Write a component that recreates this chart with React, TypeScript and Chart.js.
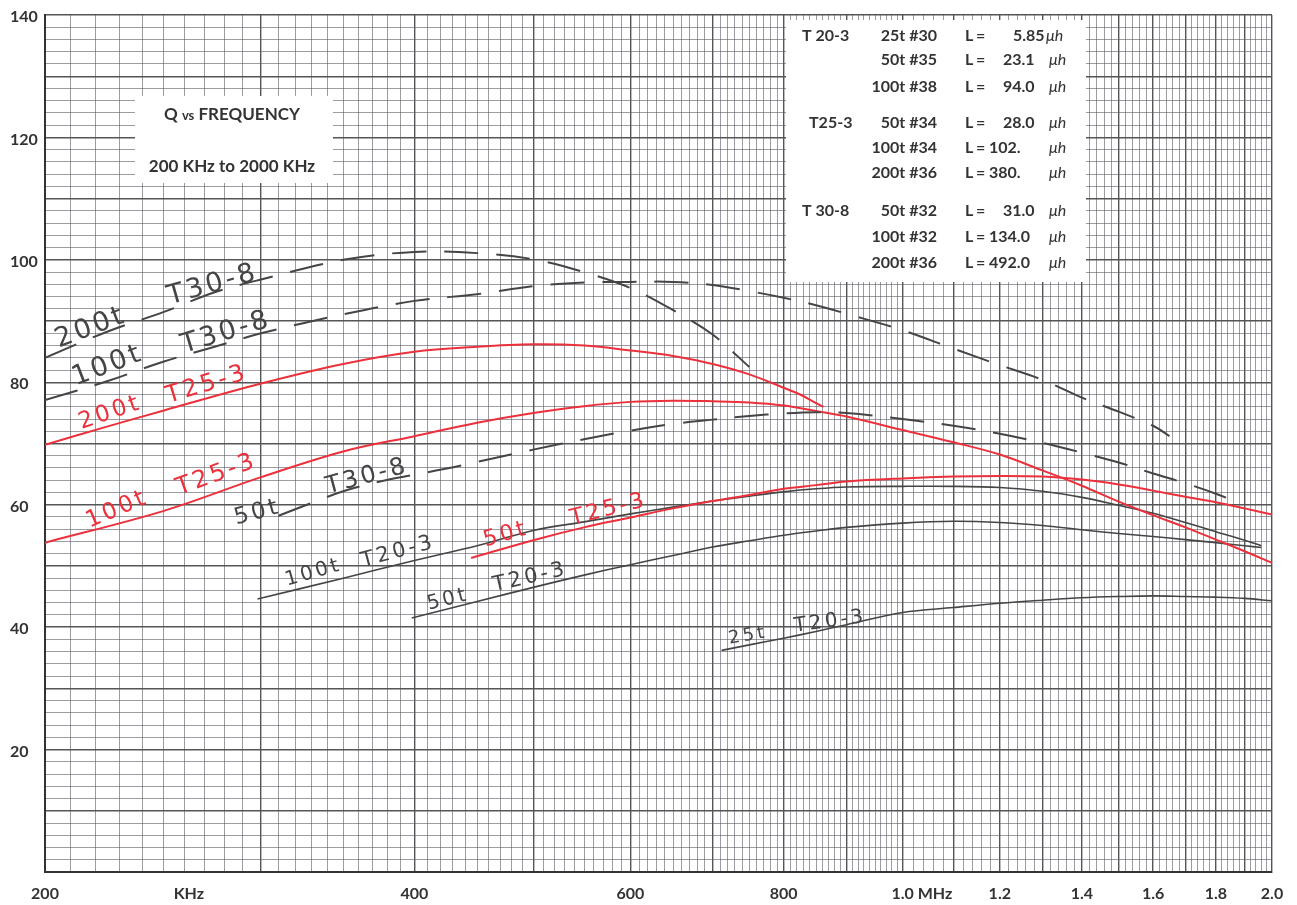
import React, { useEffect, useRef } from 'react';
import { Chart, registerables } from 'chart.js';

Chart.register(...registerables);

// ---- Data (frequency in kHz, Q) ----
const T30_200T_FREQ = [200, 225, 250, 275, 300, 350, 400, 450, 500, 550, 600, 650, 700, 750];
const T30_200T_Q = [84.0, 88.3, 91.5, 94.7, 96.8, 100.0, 101.3, 101.1, 100.1, 98.0, 95.4, 91.8, 87.8, 82.5];

const T30_100T_FREQ = [200, 225, 250, 275, 300, 350, 400, 450, 500, 550, 600, 650, 700, 750, 800, 850, 900, 1000, 1100, 1200, 1300, 1400, 1500, 1600, 1650];
const T30_100T_Q = [77.1, 80.2, 83.4, 85.8, 88.0, 91.1, 93.3, 94.4, 95.7, 96.3, 96.4, 96.4, 95.9, 94.9, 93.8, 92.6, 91.2, 88.5, 85.5, 82.8, 80.4, 77.5, 75.2, 72.9, 71.2];

const T30_50T_FREQ = [310, 330, 350, 375, 400, 425, 450, 500, 550, 600, 650, 700, 750, 800, 850, 900, 1000, 1100, 1200, 1300, 1400, 1500, 1600, 1700, 1800, 1870];
const T30_50T_Q = [58.2, 60.3, 62.2, 63.8, 64.9, 65.9, 67.0, 69.0, 70.7, 72.1, 73.2, 73.9, 74.5, 74.9, 75.1, 75.0, 74.0, 72.9, 71.6, 70.1, 68.5, 66.9, 65.1, 63.5, 61.8, 60.5];

const T25_200T_FREQ = [200, 225, 250, 300, 350, 400, 450, 500, 550, 600, 650, 700, 750, 800, 825, 850, 862];
const T25_200T_Q = [69.8, 72.8, 75.4, 79.8, 83.0, 85.0, 85.8, 86.2, 86.0, 85.2, 84.3, 83.0, 81.3, 79.1, 78.0, 76.6, 76.0];

const T25_100T_FREQ = [200, 250, 300, 350, 400, 450, 500, 550, 600, 650, 700, 750, 800, 850, 900, 1000, 1100, 1200, 1300, 1400, 1500, 1600, 1700, 1800, 1900, 2000];
const T25_100T_Q = [53.8, 59.0, 64.5, 68.7, 71.2, 73.4, 75.0, 76.1, 76.8, 77.0, 76.9, 76.7, 76.2, 75.3, 74.4, 72.2, 70.2, 68.2, 65.6, 63.1, 60.5, 58.3, 56.3, 54.3, 52.4, 50.5];

const T25_50T_FREQ = [445, 500, 550, 600, 650, 700, 750, 800, 850, 900, 1000, 1100, 1200, 1300, 1400, 1500, 1600, 1700, 1800, 1900, 2000];
const T25_50T_Q = [51.3, 54.2, 56.3, 57.9, 59.4, 60.6, 61.6, 62.6, 63.2, 63.8, 64.3, 64.6, 64.7, 64.6, 64.1, 63.3, 62.3, 61.3, 60.4, 59.4, 58.4];

const T20_100T_FREQ = [298, 350, 400, 450, 500, 550, 600, 650, 700, 750, 800, 850, 900, 1000, 1100, 1200, 1300, 1400, 1500, 1600, 1700, 1800, 1900, 1960];
const T20_100T_Q = [44.6, 48.0, 50.9, 53.3, 55.8, 57.2, 58.5, 59.6, 60.6, 61.4, 62.1, 62.6, 62.9, 63.0, 63.0, 62.8, 62.2, 61.2, 59.9, 58.6, 57.1, 55.6, 54.2, 53.3];

const T20_50T_FREQ = [398, 450, 500, 550, 600, 650, 700, 750, 800, 850, 900, 1000, 1100, 1200, 1300, 1400, 1500, 1600, 1700, 1800, 1900, 1960];
const T20_50T_Q = [41.5, 44.2, 46.5, 48.5, 50.2, 51.7, 53.1, 54.1, 55.0, 55.7, 56.3, 57.0, 57.3, 57.1, 56.6, 55.9, 55.3, 54.8, 54.3, 53.8, 53.3, 53.0];

const T20_25T_FREQ = [712, 750, 800, 850, 900, 1000, 1100, 1200, 1300, 1400, 1500, 1600, 1700, 1800, 1900, 2000];
const T20_25T_Q = [36.2, 37.1, 38.2, 39.3, 40.4, 42.4, 43.2, 43.9, 44.4, 44.8, 45.0, 45.1, 45.0, 44.9, 44.7, 44.3];

// ---- Axis labels ----
const X_LABEL_VALUES = [200, 262, 400, 600, 800, 1000, 1200, 1400, 1600, 1800, 2000];
const X_LABEL_TEXTS = ['200', 'KHz', '400', '600', '800', '1.0', '1.2', '1.4', '1.6', '1.8', '2.0'];
const Y_LABEL_VALUES = [20, 40, 60, 80, 100, 120, 140];

// ---- Inset legend table ----
const LEGEND_CORES = ['T 20-3', '', '', 'T25-3', '', '', 'T 30-8', '', ''];
const LEGEND_TURNS = ['25t #30', '50t #35', '100t #38', '50t #34', '100t #34', '200t #36', '50t #32', '100t #32', '200t #36'];
const LEGEND_L = ['5.85', '23.1', '94.0', '28.0', '102.', '380.', '31.0', '134.0', '492.0'];

const RED = 'rgb(236, 48, 60)';
const INK = '#454545';
const TEXT = '#333333';

// handwritten curve labels: [text, freq, Q, angleDeg, color, size]
const HAND_LABELS: [string, number, number, number, string, number][] = [
  ['200t', 218, 88.9, -21, INK, 27],
  ['T30-8', 274, 95.9, -16, INK, 27],
  ['100t', 225, 82.7, -21, INK, 27],
  ['T30-8', 281, 88.1, -17, INK, 27],
  ['200t', 226, 75.0, -19, RED, 23],
  ['T25-3', 271, 79.6, -17, RED, 24],
  ['100t', 229, 59.2, -23, RED, 23],
  ['T25-3', 276, 64.9, -20, RED, 24],
  ['50t', 298, 58.7, -15, INK, 23],
  ['T30-8', 366, 64.6, -15, INK, 24],
  ['100t', 331, 48.9, -16, INK, 20],
  ['T20-3', 388, 52.3, -15, INK, 21],
  ['50t', 475, 55.1, -16, RED, 22],
  ['T25-3', 576, 59.2, -14, RED, 22],
  ['50t', 426, 44.5, -14, INK, 20],
  ['T20-3', 497, 48.1, -13, INK, 21],
  ['25t', 748, 38.6, -10, INK, 18],
  ['T20-3', 873, 40.9, -8, INK, 20],
];

function gridValuesX(): number[] {
  const v: number[] = [];
  for (let f = 200; f < 1000; f += 10) v.push(f);
  for (let f = 1000; f <= 2000; f += 20) v.push(f);
  return v;
}
function gridValuesY(): number[] {
  const v: number[] = [];
  for (let q = 0; q <= 140; q += 2) v.push(q);
  return v;
}

const LABEL_FONT = '"Lato", "Open Sans", sans-serif';

export default function App() {
  const ref = useRef<HTMLCanvasElement>(null);

  useEffect(() => {
    const canvas = ref.current!;
    const pts = (f: number[], q: number[]) => f.map((x, i) => ({ x, y: q[i] }));
    const line = (f: number[], q: number[], color: string, dashed: boolean, width: number) => ({
      data: pts(f, q),
      borderColor: color,
      borderWidth: width,
      borderDash: dashed ? [34, 18] : [],
      pointRadius: 0,
      fill: false,
      tension: 0.35,
    });

    const datasets = [
      line(T30_200T_FREQ, T30_200T_Q, INK, true, 2),
      line(T30_100T_FREQ, T30_100T_Q, INK, true, 2),
      line(T30_50T_FREQ, T30_50T_Q, INK, true, 2),
      line(T25_200T_FREQ, T25_200T_Q, RED, false, 2),
      line(T25_100T_FREQ, T25_100T_Q, RED, false, 2),
      line(T25_50T_FREQ, T25_50T_Q, RED, false, 2),
      line(T20_100T_FREQ, T20_100T_Q, INK, false, 1.6),
      line(T20_50T_FREQ, T20_50T_Q, INK, false, 1.6),
      line(T20_25T_FREQ, T20_25T_Q, INK, false, 1.6),
    ];

    const overlay = {
      id: 'overlay',
      beforeDatasetsDraw(chart: any) {
        const ctx = chart.ctx as CanvasRenderingContext2D;
        const a = chart.chartArea;
        ctx.save();
        ctx.fillStyle = '#ffffff';
        // title box
        ctx.fillRect(a.left + 90, a.top + 81, 198, 87);
        // inset table
        ctx.fillRect(a.left + 741, a.top + 5, 300, 262);
        ctx.restore();
      },
      afterDatasetsDraw(chart: any) {
        const ctx = chart.ctx as CanvasRenderingContext2D;
        const xs = chart.scales.x;
        const ys = chart.scales.y;
        ctx.save();
        ctx.textAlign = 'center';
        ctx.textBaseline = 'middle';
        (ctx as any).letterSpacing = '3px';
        for (const [t, f, q, ang, col, size] of HAND_LABELS) {
          ctx.save();
          ctx.translate(xs.getPixelForValue(f), ys.getPixelForValue(q));
          ctx.rotate((ang * Math.PI) / 180);
          ctx.font = `${size}px "DejaVu Sans", sans-serif`;
          ctx.fillStyle = col;
          ctx.fillText(t, 0, 0);
          ctx.restore();
        }
        ctx.restore();
      },
      afterDraw(chart: any) {
        const ctx = chart.ctx as CanvasRenderingContext2D;
        const a = chart.chartArea;
        const xs = chart.scales.x;
        const ys = chart.scales.y;
        ctx.save();
        ctx.fillStyle = TEXT;
        ctx.font = `bold 16px ${LABEL_FONT}`;
        // y labels
        ctx.textAlign = 'left';
        ctx.textBaseline = 'middle';
        for (const v of Y_LABEL_VALUES) {
          ctx.fillText(String(v), 10, ys.getPixelForValue(v) + 2);
        }
        // x labels
        ctx.textAlign = 'center';
        X_LABEL_VALUES.forEach((v, i) => {
          const px = xs.getPixelForValue(v);
          ctx.fillText(X_LABEL_TEXTS[i], px, a.bottom + 22);
          if (X_LABEL_TEXTS[i] === '1.0') {
            const w = ctx.measureText('1.0').width;
            ctx.textAlign = 'left';
            ctx.fillText(' MHz', px + w / 2, a.bottom + 22);
            ctx.textAlign = 'center';
          }
        });

        // title box text
        const tx = a.left + 187;
        ctx.font = `bold 17px ${LABEL_FONT}`;
        const q1 = 'Q ';
        const q2 = 'vs';
        const q3 = ' FREQUENCY';
        ctx.textAlign = 'left';
        const w1 = ctx.measureText(q1).width;
        const w3 = ctx.measureText(q3).width;
        ctx.font = `bold 13px ${LABEL_FONT}`;
        const w2 = ctx.measureText(q2).width;
        let sx = tx - (w1 + w2 + w3) / 2;
        const ty = a.top + 100;
        ctx.font = `bold 17px ${LABEL_FONT}`;
        ctx.fillText(q1, sx, ty);
        sx += w1;
        ctx.font = `bold 13px ${LABEL_FONT}`;
        ctx.fillText(q2, sx, ty + 1);
        sx += w2;
        ctx.font = `bold 17px ${LABEL_FONT}`;
        ctx.fillText(q3, sx, ty);
        ctx.textAlign = 'center';
        ctx.fillText('200 KHz to 2000 KHz', tx, a.top + 152);

        // inset table text
        const rowY = [21, 45, 72, 108, 133, 158, 196, 222, 248];
        ctx.font = `bold 16px ${LABEL_FONT}`;
        for (let i = 0; i < LEGEND_TURNS.length; i++) {
          const y = a.top + rowY[i];
          ctx.textAlign = 'left';
          if (LEGEND_CORES[i]) ctx.fillText(LEGEND_CORES[i], LEGEND_CORES[i] === 'T25-3' ? a.left + 764 : a.left + 757, y);
          ctx.textAlign = 'right';
          ctx.fillText(LEGEND_TURNS[i], a.left + 892, y);
          ctx.textAlign = 'left';
          ctx.fillText('L', a.left + 920, y);
          ctx.fillText('=', a.left + 931, y);
          const digits = LEGEND_L[i].split('.')[0].length;
          const vx = digits >= 3 ? 944 : digits === 2 ? 958 : 968;
          ctx.fillText(LEGEND_L[i], a.left + vx, y);
          ctx.font = `italic 16px ${LABEL_FONT}`;
          ctx.fillText('\u03BCh', a.left + (i === 0 ? 1001 : 1004), y);
          ctx.font = `bold 16px ${LABEL_FONT}`;
        }
        ctx.restore();
      },
    };

    const chart = new Chart(canvas, {
      type: 'line',
      data: { datasets: datasets as any },
      options: {
        animation: false,
        responsive: false,
        devicePixelRatio: 1,
        layout: { padding: { left: 45, top: 15, right: 25, bottom: 33 } },
        plugins: { legend: { display: false }, tooltip: { enabled: false }, title: { display: false } },
        scales: {
          x: {
            type: 'logarithmic',
            min: 200,
            max: 2000,
            afterBuildTicks: (s: any) => {
              s.ticks = gridValuesX().map((value) => ({ value }));
            },
            ticks: { display: false },
            grid: {
              drawTicks: false,
              color: (c: any) => {
                const v = c.tick ? c.tick.value : 0;
                return Math.round(v) % 100 === 0 ? '#555' : 'rgba(90,90,100,0.6)';
              },
              lineWidth: (c: any) => {
                const v = c.tick ? c.tick.value : 0;
                return Math.round(v) % 100 === 0 ? 1.4 : 1;
              },
            },
            border: { display: true, color: '#333', width: 2 },
          },
          y: {
            type: 'linear',
            min: 0,
            max: 140,
            afterBuildTicks: (s: any) => {
              s.ticks = gridValuesY().map((value) => ({ value }));
            },
            ticks: { display: false },
            grid: {
              drawTicks: false,
              color: (c: any) => {
                const v = c.tick ? c.tick.value : 0;
                return Math.round(v) % 10 === 0 ? '#555' : 'rgba(90,90,100,0.6)';
              },
              lineWidth: (c: any) => {
                const v = c.tick ? c.tick.value : 0;
                return Math.round(v) % 10 === 0 ? 1.4 : 1;
              },
            },
            border: { display: true, color: '#333', width: 2 },
          },
        },
      },
      plugins: [overlay],
    });
    return () => chart.destroy();
  }, []);

  return (
    <div style={{ position: 'absolute', left: 0, top: 0, width: 1297, height: 905, background: '#fff' }}>
      <canvas ref={ref} width={1297} height={905} style={{ display: 'block' }} />
    </div>
  );
}
